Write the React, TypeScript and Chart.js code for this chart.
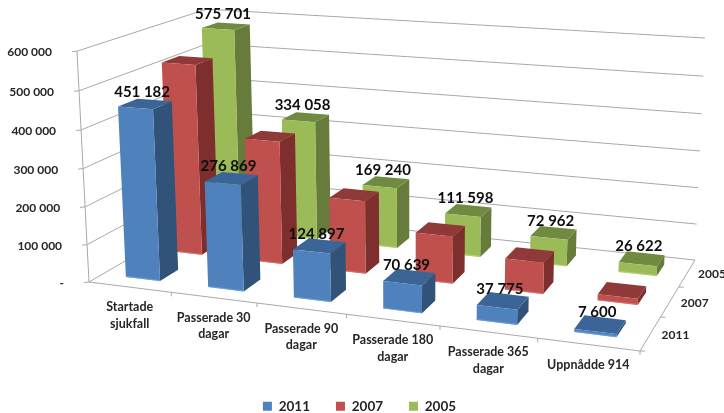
import React, { useEffect, useRef } from "react";
import { Chart, registerables } from "chart.js";

Chart.register(...registerables);

const categories = [
  ["Startade", "sjukfall"],
  ["Passerade 30", "dagar"],
  ["Passerade 90", "dagar"],
  ["Passerade 180", "dagar"],
  ["Passerade 365", "dagar"],
  ["Uppnådde 914"],
];
const years = ["2011", "2007", "2005"];
const values2011 = [451182, 276869, 124897, 70639, 37775, 7600];
const values2007 = [521000, 333000, 195000, 125000, 82000, 16000];
const values2005 = [575701, 334058, 169240, 111598, 72962, 26622];

const colors = [
  { front: "#4f81bd", side: "#315279", top: "#3b6497", rim: "#76a5de" },
  { front: "#c0504d", side: "#7e2f2d", top: "#8f3a38", rim: "#de7672" },
  { front: "#9bbb59", side: "#677b3b", top: "#708a40", rim: "#bada74" },
];

const FONT = "Lato, Carlito, sans-serif";
const TEXT = "#262626";
const GRID = "#a8a8a8";

type P = [number, number];

// Floor of the 3D box: [front-left, front-right, back-right, back-left]
const FLOOR: P[] = [[89, 282], [640, 351], [695, 260], [213, 210]];
// Point the vertical edges converge to, and the strength of the height column
const VANISH: P = [413, 6500];
const HEIGHT_WEIGHT = -0.0358;
const HEIGHT_CORNER_FIX = -0.0073;

function floorMatrix(q: P[]) {
  const [[x0, y0], [x1, y1], [x2, y2], [x3, y3]] = q;
  const sx = x0 - x1 + x2 - x3;
  const sy = y0 - y1 + y2 - y3;
  const dx1 = x1 - x2;
  const dx2 = x3 - x2;
  const dy1 = y1 - y2;
  const dy2 = y3 - y2;
  const det = dx1 * dy2 - dx2 * dy1;
  const g = (sx * dy2 - dx2 * sy) / det;
  const h = (dx1 * sy - sx * dy1) / det;
  return {
    g,
    h,
    a: x1 - x0 + g * x1,
    b: x3 - x0 + h * x3,
    d: y1 - y0 + g * y1,
    e: y3 - y0 + h * y3,
    x0,
    y0,
  };
}
const M = floorMatrix(FLOOR);

// u: along the categories, v: depth towards the back, w: height
function project(u: number, v: number, w: number): P {
  const m = HEIGHT_WEIGHT * (1 + HEIGHT_CORNER_FIX * u * v) * w;
  const den = M.g * u + M.h * v + 1 + m;
  return [
    (M.a * u + M.b * v + M.x0 + m * VANISH[0]) / den,
    (M.d * u + M.e * v + M.y0 + m * VANISH[1]) / den,
  ];
}

function poly(ctx: CanvasRenderingContext2D, pts: P[], fill: string) {
  ctx.beginPath();
  pts.forEach((p, i) => (i ? ctx.lineTo(p[0], p[1]) : ctx.moveTo(p[0], p[1])));
  ctx.closePath();
  ctx.fillStyle = fill;
  ctx.fill();
}

function segment(ctx: CanvasRenderingContext2D, a: P, b: P) {
  ctx.beginPath();
  ctx.moveTo(a[0], a[1]);
  ctx.lineTo(b[0], b[1]);
  ctx.stroke();
}

const spaced = (n: number) => String(n).replace(/\B(?=(\d{3})+$)/g, " ");

const BAR_FRACTION = 0.42;

const box3d = {
  id: "box3d",
  beforeDatasetsDraw(chart: any) {
    const { ctx, scales } = chart;
    const xs = scales.x;
    const ys = scales.y;
    const zs = scales.depth;
    const uOf = (i: number) => xs.getDecimalForPixel(xs.getPixelForValue(i));
    const vOf = (j: number) => zs.getDecimalForPixel(zs.getPixelForValue(j));
    const wOf = (val: number) => ys.getDecimalForPixel(ys.getPixelForValue(val));
    const halfU = (BAR_FRACTION / xs.ticks.length) / 2;
    const halfV = (BAR_FRACTION / zs.ticks.length) / 2;

    ctx.save();

    // walls and floor edges
    ctx.strokeStyle = GRID;
    ctx.lineWidth = 1;
    ys.ticks.forEach((t: any) => {
      const w = wOf(t.value);
      const a = project(0, 0, w);
      const b = project(0, 1, w);
      const c = project(1, 1, w);
      segment(ctx, [a[0] - 5, a[1] + 0.5], a);
      segment(ctx, a, b);
      segment(ctx, b, c);
    });
    segment(ctx, project(0, 0, 0), project(0, 0, 1));
    segment(ctx, project(0, 0, 0), project(1, 0, 0));
    segment(ctx, project(1, 0, 0), project(1, 1, 0));
    xs.ticks.forEach((_: any, i: number) => {
      const p = project((i + 1) / xs.ticks.length, 0, 0);
      segment(ctx, p, [p[0], p[1] + 4]);
    });
    zs.ticks.forEach((_: any, j: number) => {
      const p = project(1, j / zs.ticks.length, 0);
      segment(ctx, p, [p[0] + 5, p[1]]);
    });

    // axis text
    ctx.fillStyle = TEXT;
    ctx.textBaseline = "middle";
    ctx.font = `bold 12px ${FONT}`;
    ctx.textAlign = "right";
    ys.ticks.forEach((t: any) => {
      const p = project(0, 0, wOf(t.value));
      ctx.fillText(t.label, p[0] - 25, p[1] + 1);
    });
    ctx.textAlign = "center";
    ctx.font = `bold 12.5px ${FONT}`;
    xs.ticks.forEach((t: any, i: number) => {
      const p = project(uOf(i), 0, 0);
      const lines: string[] = Array.isArray(t.label) ? t.label : [t.label];
      lines.forEach((s, k) => ctx.fillText(s, p[0], p[1] + 20 + k * 16.5));
    });
    ctx.font = `bold 12px ${FONT}`;
    zs.ticks.forEach((t: any, j: number) => {
      const p = project(1, vOf(j), 0);
      ctx.fillText(t.label, p[0] + 25, p[1] + 1);
    });

    // columns, back row first
    for (let j = chart.data.datasets.length - 1; j >= 0; j--) {
      const ds = chart.data.datasets[j];
      const col = colors[j];
      ds.data.forEach((val: number, i: number) => {
        const u0 = uOf(i) - halfU;
        const u1 = uOf(i) + halfU;
        const v0 = vOf(j) - halfV;
        const v1 = vOf(j) + halfV;
        const w = wOf(val);
        poly(ctx, [project(u1, v0, 0), project(u1, v1, 0), project(u1, v1, w), project(u1, v0, w)], col.side);
        poly(ctx, [project(u0, v0, w), project(u1, v0, w), project(u1, v1, w), project(u0, v1, w)], col.top);
        poly(ctx, [project(u0, v0, 0), project(u1, v0, 0), project(u1, v0, w), project(u0, v0, w)], col.front);
        // lighter rim along the foot of the front face
        ctx.save();
        ctx.strokeStyle = col.rim;
        ctx.lineWidth = 1.2;
        ctx.globalAlpha = 0.7;
        const fa = project(u0, v0, 0);
        const fb = project(u1, v0, 0);
        segment(ctx, [fa[0], fa[1] - 0.5], [fb[0], fb[1] - 0.5]);
        ctx.restore();
      });
    }

    // value labels for the rows that carry them
    ctx.fillStyle = "#0d0d0d";
    ctx.font = `bold 15px ${FONT}`;
    [0, 2].forEach((j) => {
      chart.data.datasets[j].data.forEach((val: number, i: number) => {
        const p = project(uOf(i), vOf(j), wOf(val));
        ctx.fillText(spaced(val), p[0] - 3, p[1] - 12);
      });
    });

    ctx.restore();
    return false;
  },
};

export default function App() {
  const ref = useRef<HTMLCanvasElement>(null);
  useEffect(() => {
    const chart = new Chart(ref.current!, {
      type: "bar",
      data: {
        labels: categories as any,
        datasets: [
          { label: years[0], data: values2011, backgroundColor: colors[0].front },
          { label: years[1], data: values2007, backgroundColor: colors[1].front },
          { label: years[2], data: values2005, backgroundColor: colors[2].front },
        ],
      },
      options: {
        animation: false,
        responsive: false,
        layout: { padding: { right: 5, bottom: -10 } },
        scales: {
          x: { display: false, ticks: { autoSkip: false } },
          depth: { type: "category", axis: "x", position: "bottom", display: false, labels: years, ticks: { autoSkip: false } } as any,
          y: {
            display: false,
            min: 0,
            max: 600000,
            ticks: { stepSize: 100000, callback: (v: any) => (v === 0 ? "-" : spaced(v)) },
          },
        },
        plugins: {
          tooltip: { enabled: false },
          legend: {
            position: "bottom",
            labels: {
              boxWidth: 9,
              boxHeight: 9,
              padding: 26,
              color: TEXT,
              font: { family: FONT, size: 13.5, weight: "bold" },
            },
          },
        },
      },
      plugins: [box3d as any],
    });
    return () => chart.destroy();
  }, []);
  return (
    <div style={{ position: "fixed", left: 0, top: 0, width: 724, height: 413, background: "#fff" }}>
      <canvas ref={ref} width={724} height={413} style={{ display: "block" }} />
    </div>
  );
}
